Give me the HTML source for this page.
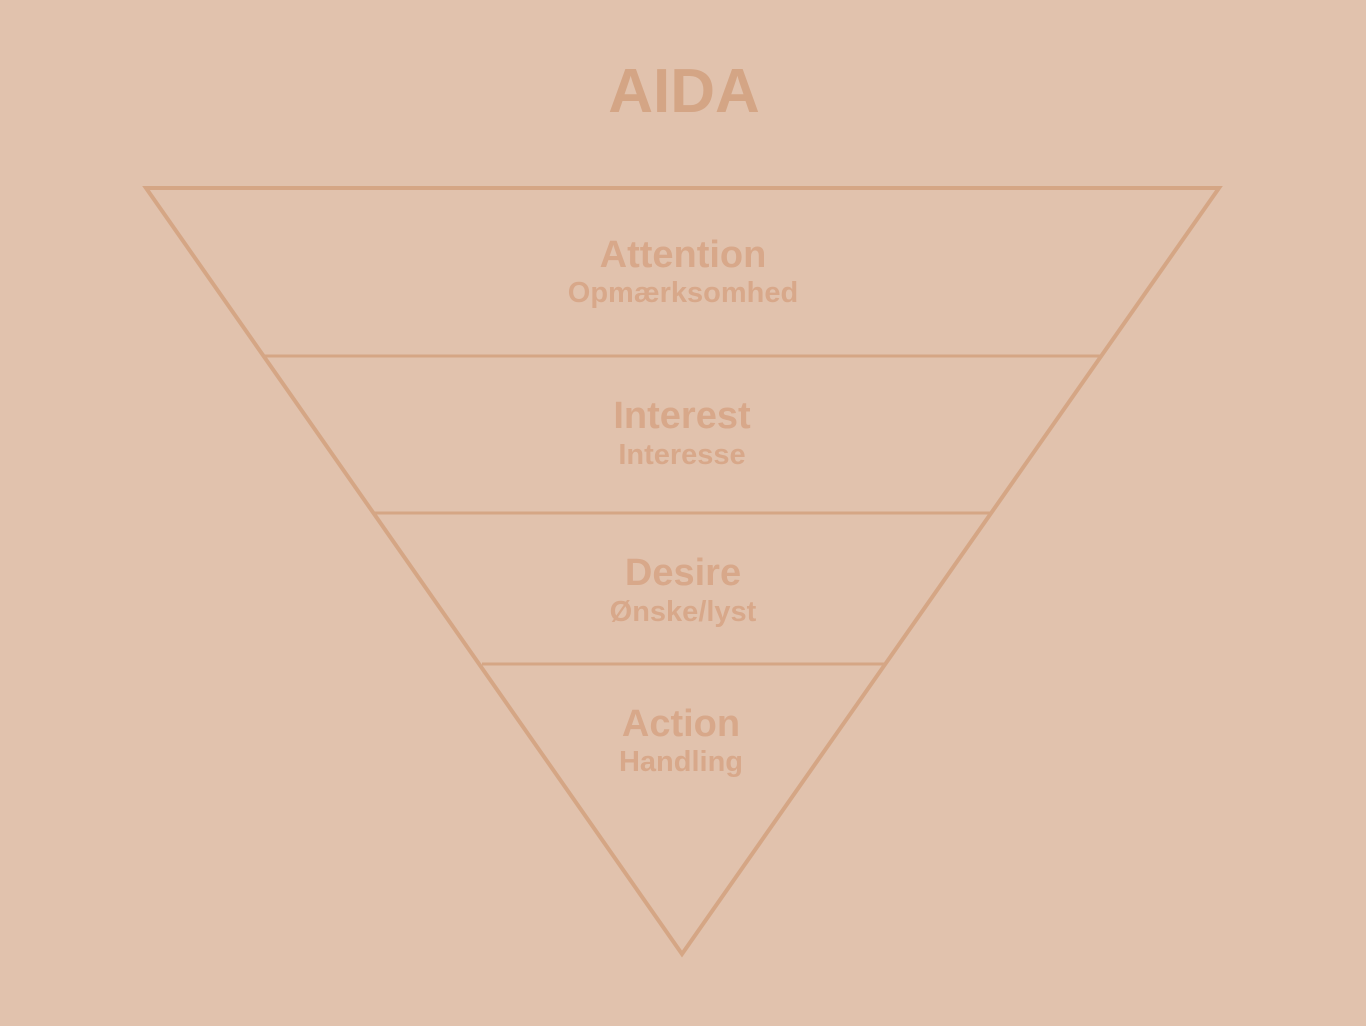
<!DOCTYPE html>
<html><head><meta charset="utf-8"><style>
html,body{margin:0;padding:0;background:#E1C2AD;}
svg{display:block}
text{font-family:"Liberation Sans",Arial,sans-serif;font-weight:bold;text-anchor:middle;}
</style></head><body>
<svg width="1366" height="1026" viewBox="0 0 1366 1026" xmlns="http://www.w3.org/2000/svg">
<rect width="1366" height="1026" fill="#E1C2AD"/>
<text x="684" y="112" font-size="62" fill="#D4A585">AIDA</text>
<polygon points="146,188 1219,188 682,954" fill="none" stroke="#D5A685" stroke-width="4" stroke-linejoin="miter"/>
<line x1="264" y1="356" x2="1100" y2="356" stroke="#D5A685" stroke-width="3"/>
<line x1="374" y1="513" x2="990" y2="513" stroke="#D5A685" stroke-width="3"/>
<line x1="482" y1="664" x2="885" y2="664" stroke="#D5A685" stroke-width="3"/>
<g fill="#D8A88A">
<text x="683" y="267" font-size="38">Attention</text>
<text x="683" y="302" font-size="29">Opmærksomhed</text>
<text x="682" y="428" font-size="38">Interest</text>
<text x="682" y="464" font-size="29">Interesse</text>
<text x="683" y="585" font-size="38">Desire</text>
<text x="683" y="621" font-size="29">Ønske/lyst</text>
<text x="681" y="736" font-size="38">Action</text>
<text x="681" y="771" font-size="29">Handling</text>
</g>
</svg>
</body></html>
